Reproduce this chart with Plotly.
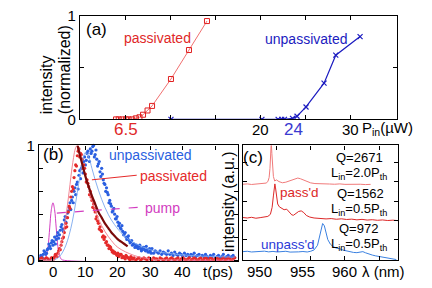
import plotly.graph_objects as go

# ---------------- panel (a): L-L curves ----------------
pass_P = [4.0, 4.3, 4.7, 5.1, 5.4, 5.8, 6.2, 6.6, 7.0, 7.5, 8.0, 10.1, 12.1, 14.1]
pass_I = [0.0, 0.0, 0.0, 0.0, 0.0, 0.0, 0.01, 0.02, 0.045, 0.086, 0.13, 0.39, 0.67, 0.95]
unpass_P = [10.1, 20.2, 22.0, 22.4, 22.7, 23.6, 24.1, 25.1, 27.1, 28.4, 31.1]
unpass_I = [0.0, 0.0, 0.0, 0.0, 0.0, 0.01, 0.03, 0.12, 0.35, 0.62, 0.80]
a_tick_vals = [20, 30]

# ---------------- panel (b): time-resolved PL ----------------
t_ps = [-4.0, -3.5, -3.0, -2.5, -2.0, -1.5, -1.0, -0.5, 0.0, 0.5, 1.0, 1.5, 2.0, 2.5, 3.0, 3.5, 4.0, 4.5, 5.0, 5.5,
        6.0, 6.5, 7.0, 7.5, 8.0, 8.5, 9.0, 9.5, 10.0, 10.5, 11.0, 11.5, 12.0, 12.5, 13.0, 13.5, 14.0, 14.5, 15.0, 15.5,
        16.0, 16.5, 17.0, 17.5, 18.0, 18.5, 19.0, 19.5, 20.0, 20.5, 21.0, 21.5, 22.0, 22.5, 23.0, 23.5, 24.0, 24.5, 25.0, 25.5,
        26.0, 26.5, 27.0, 27.5, 28.0, 28.5, 29.0, 29.5, 30.0, 30.5, 31.0, 31.5, 32.0, 32.5, 33.0, 33.5, 34.0, 34.5, 35.0, 35.5,
        36.0, 36.5, 37.0, 37.5, 38.0, 38.5, 39.0, 39.5, 40.0, 40.5, 41.0, 41.5, 42.0, 42.5, 43.0, 43.5, 44.0, 44.5, 45.0, 45.5,
        46.0, 46.5, 47.0, 47.5, 48.0, 48.5, 49.0, 49.5, 50.0, 50.5, 51.0, 51.5, 52.0, 52.5, 53.0, 53.5, 54.0, 54.5, 55.0, 55.5,
        56.0]
unpass_pl = [0.02, 0.03, 0.05, 0.07, 0.06, 0.10, 0.12, 0.15, 0.13, 0.20, 0.18, 0.24, 0.22, 0.29, 0.27, 0.35, 0.33, 0.41, 0.46, 0.44,
             0.55, 0.60, 0.57, 0.68, 0.74, 0.71, 0.82, 0.86, 0.83, 0.93, 0.90, 0.97, 0.95, 1.00, 0.92, 0.88, 0.84, 0.77, 0.80, 0.70,
             0.66, 0.63, 0.57, 0.52, 0.47, 0.43, 0.40, 0.36, 0.33, 0.32, 0.27, 0.25, 0.23, 0.20, 0.19, 0.17, 0.16, 0.13, 0.14, 0.12,
             0.11, 0.12, 0.10, 0.09, 0.11, 0.08, 0.09, 0.07, 0.08, 0.10, 0.06, 0.08, 0.07, 0.06, 0.08, 0.05, 0.07, 0.06, 0.05, 0.08,
             0.05, 0.06, 0.04, 0.07, 0.05, 0.04, 0.06, 0.05, 0.03, 0.06, 0.04, 0.05, 0.03, 0.05, 0.04, 0.06, 0.03, 0.04, 0.05, 0.02,
             0.04, 0.03, 0.05, 0.03, 0.02, 0.04, 0.03, 0.05, 0.02, 0.03, 0.04, 0.02, 0.03, 0.05, 0.02, 0.03, 0.04, 0.02, 0.03, 0.04,
             0.02]
pass_pl = [0.01, 0.02, 0.00, 0.01, 0.02, 0.01, 0.00, 0.02, 0.01, 0.03, 0.04, 0.06, 0.10, 0.13, 0.19, 0.24, 0.32, 0.37, 0.47, 0.55,
           0.64, 0.72, 0.83, 0.91, 0.97, 0.93, 0.88, 0.83, 0.75, 0.70, 0.64, 0.60, 0.52, 0.49, 0.42, 0.38, 0.32, 0.29, 0.25, 0.21,
           0.20, 0.16, 0.13, 0.12, 0.09, 0.08, 0.07, 0.05, 0.06, 0.04, 0.05, 0.03, 0.02, 0.04, 0.02, 0.01, 0.03, 0.01, 0.02, 0.00,
           0.01, 0.02, 0.00, 0.01, 0.02, 0.01, 0.00, 0.02, 0.01, 0.00, 0.02, 0.01, 0.01, 0.00, 0.02, 0.01, 0.00, 0.01, 0.02, 0.00,
           0.01, 0.02, 0.01, 0.00, 0.01, 0.02, 0.00, 0.01, 0.02, 0.01, 0.00, 0.01, 0.02, 0.00, 0.01, 0.02, 0.01, 0.00, 0.01, 0.02,
           0.00, 0.01, 0.02, 0.01, 0.00, 0.02, 0.01, 0.00, 0.01, 0.02, 0.01, 0.00, 0.01, 0.02, 0.00, 0.01, 0.02, 0.01, 0.00, 0.01,
           0.02]
# second (interleaved) sweep of measured points
t2_unpass = [-3.75, -3.25, -2.75, -2.25, -1.75, -1.25, -0.75, -0.25, 0.25, 0.75, 1.25, 1.75, 2.25, 2.75, 3.25, 3.75,
             4.25, 4.75, 5.25, 5.75, 6.25, 6.75, 7.25, 7.75, 8.25, 8.75, 9.25, 9.75, 10.25, 10.75, 11.25, 11.75,
             12.25, 12.75, 13.25, 13.75, 14.25, 14.75, 15.25, 15.75, 16.25, 16.75, 17.25, 17.75, 18.25, 18.75, 19.25,
             19.75, 20.25, 20.75, 21.25, 21.75, 22.25, 22.75, 23.25, 23.75, 24.25, 24.75, 25.25, 25.75, 26.25, 26.75,
             27.25, 27.75, 28.25, 28.75, 29.25, 29.75, 30.25]
unpass_pl2 = [0.04, 0.02, 0.08, 0.05, 0.09, 0.14, 0.10, 0.17, 0.16, 0.14, 0.21, 0.19, 0.26, 0.31, 0.25, 0.38,
              0.37, 0.43, 0.50, 0.52, 0.50, 0.63, 0.66, 0.62, 0.78, 0.80, 0.76, 0.90, 0.87, 0.95, 0.86, 0.93,
              0.99, 0.90, 0.96, 0.82, 0.86, 0.73, 0.75, 0.67, 0.60, 0.59, 0.50, 0.49, 0.42, 0.45, 0.36,
              0.38, 0.30, 0.28, 0.30, 0.22, 0.24, 0.18, 0.21, 0.15, 0.17, 0.14, 0.11, 0.13, 0.10, 0.13,
              0.08, 0.11, 0.09, 0.12, 0.07, 0.10, 0.06]
t2_pass = [-0.25, 0.25, 0.75, 1.25, 1.75, 2.25, 2.75, 3.25, 3.75, 4.25, 4.75, 5.25, 5.75, 6.25, 6.75, 7.25, 7.75,
           8.25, 8.75, 9.25, 9.75, 10.25, 10.75, 11.25, 11.75, 12.25, 12.75, 13.25, 13.75, 14.25, 14.75, 15.25,
           15.75, 16.25, 16.75, 17.25, 17.75, 18.25, 18.75, 19.25, 19.75, 20.25, 20.75, 21.25, 21.75, 22.25, 22.75,
           23.25, 23.75, 24.25, 24.75]
pass_pl2 = [0.02, 0.01, 0.05, 0.03, 0.08, 0.09, 0.16, 0.20, 0.28, 0.29, 0.42, 0.45, 0.60, 0.62, 0.78, 0.82, 0.95,
            0.90, 0.92, 0.80, 0.80, 0.68, 0.67, 0.57, 0.55, 0.46, 0.45, 0.36, 0.34, 0.27, 0.26, 0.20,
            0.18, 0.15, 0.13, 0.10, 0.11, 0.07, 0.06, 0.06, 0.04, 0.03, 0.05, 0.02, 0.03, 0.01, 0.03,
            0.02, 0.00, 0.02, 0.01]
# fit curves
pass_fit_t = [-4, 0, 1, 2, 3, 4, 5, 6, 7, 7.5, 8, 9, 10, 12, 14, 16, 18, 20, 25, 30, 40, 56]
pass_fit = [0, 0, 0.02, 0.08, 0.20, 0.38, 0.60, 0.83, 0.98, 1.0, 0.97, 0.86, 0.74, 0.52, 0.36, 0.25, 0.17, 0.11, 0.04, 0.01, 0, 0]
unpass_fit_t = [-4, 0, 1, 2, 3, 4, 5, 6, 7, 8, 9, 10, 11, 12, 13, 14, 15, 16, 17, 18, 20, 22, 25, 30, 35, 40, 45, 50, 56]
unpass_fit = [0, 0, 0.01, 0.03, 0.07, 0.13, 0.22, 0.34, 0.50, 0.68, 0.85, 0.94, 0.90, 0.80, 0.70, 0.61, 0.53, 0.46, 0.40,
              0.35, 0.27, 0.21, 0.15, 0.09, 0.06, 0.045, 0.035, 0.03, 0.025]
decay_t = [7.6, 8, 9, 10, 11, 12, 13, 14, 15, 16, 17, 18, 19, 20, 21, 22, 23]
decay_fit = [1.0, 0.95, 0.84, 0.73, 0.64, 0.56, 0.49, 0.42, 0.37, 0.32, 0.28, 0.24, 0.21, 0.18, 0.16, 0.14, 0.12]
pump_t = [-4, -3, -2.5, -2, -1.5, -1, -0.5, 0, 0.5, 1, 1.5, 2, 2.5, 3, 56]
pump = [0, 0, 0.01, 0.04, 0.12, 0.28, 0.44, 0.50, 0.44, 0.28, 0.12, 0.04, 0.01, 0, 0]
b_tick_vals = [0, 10, 20, 30, 40]

# ---------------- panel (c): spectra (offset) ----------------
lam_top = [948.1, 948.6, 949.1, 949.6, 950.1, 950.5, 950.8, 951.0, 951.15, 951.25, 951.33, 951.4, 951.47, 951.55, 951.65,
           951.8, 952.0, 952.3, 952.7, 953.1, 953.5, 953.9, 954.2, 954.5, 954.8, 955.1, 955.5, 956.0, 956.5, 957.0,
           957.6, 958.2, 958.8, 959.4, 960.0, 960.6, 961.2, 961.8, 962.4, 963.0]
spec_top = [0.662, 0.665, 0.660, 0.664, 0.666, 0.668, 0.672, 0.685, 0.72, 0.80, 0.92, 1.03, 0.93, 0.80, 0.73,
            0.69, 0.70, 0.685, 0.675, 0.68, 0.69, 0.70, 0.71, 0.716, 0.71, 0.70, 0.685, 0.674, 0.668, 0.665,
            0.667, 0.664, 0.662, 0.665, 0.661, 0.663, 0.660, 0.662, 0.659, 0.661]
lam_mid = [948.1, 948.6, 949.1, 949.6, 950.1, 950.6, 951.0, 951.3, 951.5, 951.65, 951.75, 951.82, 951.9, 952.0, 952.15,
           952.35, 952.6, 952.9, 953.2, 953.5, 953.8, 954.0, 954.3, 954.6, 954.9, 955.2, 955.5, 955.9, 956.4, 957.0,
           957.8, 958.4, 959.0, 959.6, 960.2, 960.8, 961.4, 962.0, 962.6, 963.2, 963.8, 964.4, 965.0, 965.6, 966.2]
spec_mid = [0.372, 0.368, 0.374, 0.366, 0.371, 0.375, 0.382, 0.40, 0.46, 0.56, 0.64, 0.665, 0.63, 0.55, 0.49,
            0.465, 0.455, 0.44, 0.445, 0.415, 0.395, 0.392, 0.41, 0.425, 0.43, 0.415, 0.39, 0.376, 0.368, 0.364,
            0.36, 0.363, 0.357, 0.361, 0.355, 0.358, 0.352, 0.356, 0.350, 0.353, 0.348, 0.351, 0.346, 0.349, 0.345]
lam_bot = [948.1, 948.6, 949.1, 949.6, 950.1, 950.6, 951.1, 951.6, 952.1, 952.6, 953.1, 953.6, 954.1, 954.6, 955.1,
           955.6, 956.0, 956.4, 956.8, 957.0, 957.2, 957.4, 957.6, 957.8, 958.0, 958.3, 958.6, 959.0, 959.4, 959.8,
           960.2, 960.6, 961.0, 961.4, 961.8, 962.1, 962.4, 962.8, 963.2, 963.6, 964.1, 964.6, 965.1, 965.6, 966.0]
spec_bot = [0.075, 0.078, 0.072, 0.076, 0.074, 0.079, 0.073, 0.077, 0.072, 0.074, 0.078, 0.071, 0.075, 0.073, 0.076,
            0.072, 0.078, 0.09, 0.13, 0.19, 0.27, 0.32, 0.30, 0.24, 0.18, 0.14, 0.12, 0.105, 0.10, 0.088,
            0.080, 0.074, 0.068, 0.066, 0.070, 0.075, 0.065, 0.052, 0.045, 0.038, 0.030, 0.022, 0.016, 0.010, 0.006]
c_tick_vals = [950, 955, 960]

RED = "#e52a2a"
BLUE = "#2a5fe0"
DBLUE = "#1c1cc0"
MAG = "#d23cc0"
FONT = "Liberation Sans, Arial, Helvetica, sans-serif"

fig = go.Figure()

# (a)
fig.add_trace(go.Scatter(x=pass_P, y=pass_I, mode="lines+markers", xaxis="x", yaxis="y",
                         line=dict(color="#f07070", width=1),
                         marker=dict(symbol="square-open", size=5, color="#e02020", line=dict(width=1))))
fig.add_trace(go.Scatter(x=unpass_P, y=unpass_I, mode="lines+markers", xaxis="x", yaxis="y",
                         line=dict(color=DBLUE, width=1.2),
                         marker=dict(symbol="x-thin", size=5, color=DBLUE, line=dict(width=1.2, color=DBLUE))))

# (b)
fig.add_trace(go.Scatter(x=pump_t, y=pump, mode="lines", xaxis="x2", yaxis="y2", line_shape="spline",
                         line=dict(color=MAG, width=1), cliponaxis=False))
for tx, vals, col in [(t_ps, unpass_pl, BLUE), (t2_unpass, unpass_pl2, BLUE),
                      (t_ps, pass_pl, RED), (t2_pass, pass_pl2, RED)]:
    fig.add_trace(go.Scatter(x=tx, y=vals, mode="markers", xaxis="x2", yaxis="y2",
                             marker=dict(size=3.2, color=col), cliponaxis=False))
fig.add_trace(go.Scatter(x=unpass_fit_t, y=unpass_fit, mode="lines", xaxis="x2", yaxis="y2", line_shape="spline",
                         line=dict(color="#7aa8ee", width=0.9)))
fig.add_trace(go.Scatter(x=pass_fit_t, y=pass_fit, mode="lines", xaxis="x2", yaxis="y2", line_shape="spline",
                         line=dict(color="#f07888", width=0.9)))
fig.add_trace(go.Scatter(x=decay_t, y=decay_fit, mode="lines", xaxis="x2", yaxis="y2", line_shape="spline",
                         line=dict(color="#7a0a0a", width=2.2)))

# (c)
fig.add_trace(go.Scatter(x=lam_top, y=spec_top, mode="lines", xaxis="x3", yaxis="y3",
                         line=dict(color="#f07a7a", width=1)))
fig.add_trace(go.Scatter(x=lam_mid, y=spec_mid, mode="lines", xaxis="x3", yaxis="y3",
                         line=dict(color="#dc2828", width=1)))
fig.add_trace(go.Scatter(x=lam_bot, y=spec_bot, mode="lines", xaxis="x3", yaxis="y3",
                         line=dict(color="#3a80e0", width=1)))

W, H = 432, 288


def px(x):
    return x / W


def py(y):
    return 1 - y / H


axis_common = dict(showline=True, mirror="ticks", linecolor="black", linewidth=1.3, ticks="inside",
                   ticklen=4, tickcolor="black", showgrid=False, zeroline=False,
                   tickfont=dict(size=15, color="black", family=FONT))


def minor(vals):
    return dict(tickvals=vals, ticks="inside", ticklen=4, tickcolor="black", showgrid=False)


fig.update_layout(
    width=W, height=H, margin=dict(l=0, r=0, t=0, b=0), showlegend=False,
    paper_bgcolor="white", plot_bgcolor="white", font=dict(family=FONT, color="black"),
    xaxis=dict(domain=[px(80), px(397)], range=[0, 35.2], anchor="y",
               tickvals=[5, 10, 15, 20, 25, 30], showticklabels=False, **axis_common),
    yaxis=dict(domain=[py(117.3), py(7.3)], range=[0, 1], anchor="x",
               tickvals=[0, 1], ticktext=["0", "1"], minor=minor([0.5]), **axis_common),
    xaxis2=dict(domain=[px(39), px(238)], range=[-4.3, 57], anchor="y2",
                tickvals=[0, 10, 20, 30, 40, 50], showticklabels=False, **axis_common),
    yaxis2=dict(domain=[py(268), py(145)], range=[-0.01, 1.0], anchor="x2",
                tickvals=[0, 1], ticktext=["0", "1"], minor=minor([0.2, 0.4, 0.6, 0.8]), **axis_common),
    xaxis3=dict(domain=[px(243), px(398)], range=[948.1, 966.2], anchor="y3",
                tickvals=[952, 956, 960, 964], showticklabels=False, **axis_common),
    yaxis3=dict(domain=[py(267), py(145)], range=[0, 1], anchor="x3",
                tickvals=[0.18, 0.35, 0.516, 0.683, 0.85], showticklabels=False, **axis_common),
)

ann = []


def A(text, x, y, color="black", size=14, xanchor="center", angle=0):
    ann.append(dict(text=text, x=px(x), y=py(y), xref="paper", yref="paper", showarrow=False,
                    xanchor=xanchor, yanchor="middle", textangle=angle,
                    font=dict(size=size, color=color, family=FONT)))


def T(v, xref, y):
    ann.append(dict(text=str(v), x=v, y=py(y), xref=xref, yref="paper", showarrow=False,
                    xanchor="center", yanchor="middle", font=dict(size=15, color="black", family=FONT)))


# (a)
A("(a)", 96, 22, size=17)
A("passivated", 157, 31, color="#e02828", size=14)
A("unpassivated", 306, 32, color=DBLUE, size=14)
A("6.5", 126, 128, color="#e02828", size=17)
A("24", 293, 128, color="#3a3ad0", size=17)
A("P<sub>in</sub>(µW)", 360, 127, size=15, xanchor="left")
A("intensity", 46, 81, size=16, angle=-90)
A("(normalized)", 64, 65, size=16, angle=-90)
for v in a_tick_vals:
    T(v, "x", 128)
# (b)
A("(b)", 53, 155, size=17)
A("unpassivated", 107, 155, color=BLUE, size=14, xanchor="left")
A("passivated", 138, 178, color=RED, size=14, xanchor="left")
A("pump", 143, 212, color=MAG, size=14, xanchor="left")
A("t(ps)", 218, 279, size=15)
for v in b_tick_vals:
    T(v, "x2", 279)
# (c)
A("(c)", 253, 158, size=17)
A("Q=2671", 359, 158, size=13)
A("L<sub>in</sub>=2.0P<sub>th</sub>", 359, 175, size=13)
A("Q=1562", 360, 196, size=13)
A("L<sub>in</sub>=0.5P<sub>th</sub>", 359, 213, size=13)
A("Q=972", 358, 233, size=13)
A("L<sub>in</sub>=0.5P<sub>th</sub>", 359, 250, size=13)
A("pass'd", 299, 195, color="#dc2828", size=13.5)
A("unpass'd", 288, 250, color="#2a3ad8", size=13.5)
A("intensity (a.u.)", 229, 205, size=16, angle=-90)
A("λ (nm)", 383, 279, size=15)
for v in c_tick_vals:
    T(v, "x3", 279)

fig.update_layout(annotations=ann)

# pointer lines in (b)
fig.add_shape(type="line", xref="x2", yref="y2", x0=12, y0=0.70, x1=25.8, y1=0.74,
              line=dict(color=RED, width=1))
fig.add_shape(type="line", xref="x2", yref="y2", x0=1.2, y0=0.41, x1=26.2, y1=0.46,
              line=dict(color=MAG, width=1.2, dash="dash"))

fig.write_html("out.html", config={"displayModeBar": False},
               post_script="document.body.style.margin='0px';document.body.style.padding='0px';")
